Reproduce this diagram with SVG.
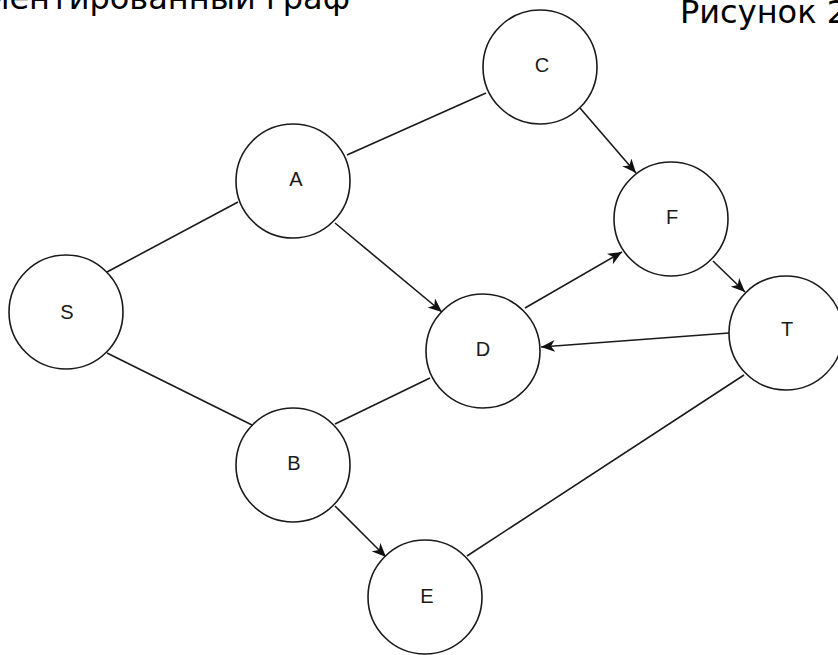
<svg xmlns="http://www.w3.org/2000/svg" width="838" height="655" viewBox="0 0 838 655">
<style>
.node circle{fill:#fff;stroke:#1a1a1a;stroke-width:1.6}
.node text{font-family:"Liberation Sans",Arial,sans-serif;font-size:20px;fill:#1a1a1a;text-anchor:middle}
.edges line{stroke:#1a1a1a;stroke-width:1.6}
.arr{marker-end:url(#ah)}
.title{font-family:"DejaVu Sans",Verdana,sans-serif;font-size:32px;fill:#000}
</style>
<defs>
<marker id="ah" viewBox="0 0 14 12" refX="14" refY="6" markerWidth="14" markerHeight="12" markerUnits="userSpaceOnUse" orient="auto">
<path d="M0,0 L14,6 L0,12 L4,6 z" fill="#111"/>
</marker>
</defs>
<rect width="838" height="655" fill="#fff"/>
<text class="title" x="350" y="9" text-anchor="end">Ориентированный граф</text>
<text class="title" x="680" y="23">Рисунок 2</text>
<g class="edges">
<line x1="107" y1="272" x2="238" y2="202"/>
<line x1="107" y1="353" x2="252" y2="425"/>
<line x1="347" y1="155" x2="486" y2="93"/>
<line class="arr" x1="335" y1="223" x2="442" y2="312"/>
<line x1="335" y1="424" x2="430" y2="378"/>
<line class="arr" x1="335" y1="506" x2="386" y2="557"/>
<line class="arr" x1="580" y1="108" x2="636" y2="173"/>
<line class="arr" x1="525" y1="308" x2="622" y2="252"/>
<line class="arr" x1="713" y1="261" x2="745" y2="292"/>
<line class="arr" x1="729" y1="333" x2="541" y2="347"/>
<line x1="744" y1="375" x2="467" y2="556"/>
</g>
<g id="S" class="node"><circle cx="66" cy="312" r="57"/><text x="67" y="319">S</text></g>
<g id="A" class="node"><circle cx="293" cy="181" r="57"/><text x="296" y="186">A</text></g>
<g id="B" class="node"><circle cx="293" cy="465" r="57"/><text x="294" y="470">B</text></g>
<g id="C" class="node"><circle cx="540" cy="67" r="57"/><text x="542" y="72">C</text></g>
<g id="D" class="node"><circle cx="483" cy="351" r="57"/><text x="483" y="356">D</text></g>
<g id="E" class="node"><circle cx="425" cy="597" r="57"/><text x="427" y="603">E</text></g>
<g id="F" class="node"><circle cx="671" cy="219" r="57"/><text x="672" y="224">F</text></g>
<g id="T" class="node"><circle cx="786" cy="333" r="57"/><text x="787" y="336">T</text></g>
</svg>
